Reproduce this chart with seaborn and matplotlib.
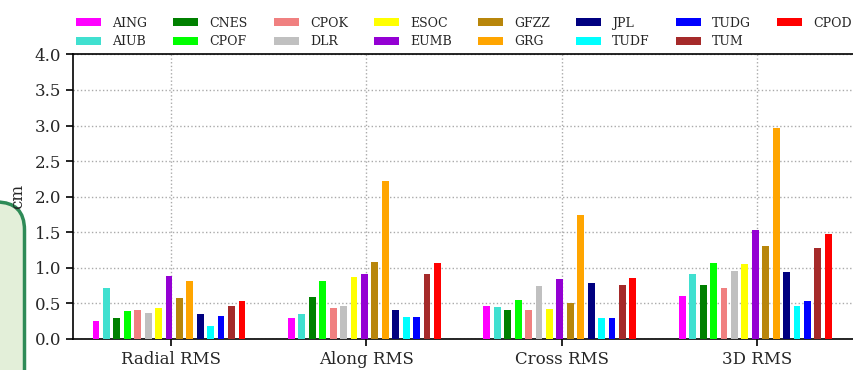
import matplotlib
matplotlib.use("Agg")
import matplotlib.pyplot as plt
from matplotlib.patches import FancyBboxPatch, Patch
import seaborn as sns
import pandas as pd

categories = ["Radial RMS", "Along RMS", "Cross RMS", "3D RMS"]
centers = ["AING", "AIUB", "CNES", "CPOF", "CPOK", "DLR", "ESOC", "EUMB",
           "GFZZ", "GRG", "JPL", "TUDF", "TUDG", "TUM", "CPOD"]
colors = ["#ff00ff", "#40e0d0", "#008000", "#00ff00", "#f08080", "#c0c0c0",
          "#ffff00", "#9400d3", "#b8860b", "#ffa500", "#000080", "#00ffff",
          "#0000ff", "#a52a2a", "#ff0000"]

radial = [0.25, 0.71, 0.30, 0.40, 0.41, 0.37, 0.43, 0.88, 0.57, 0.81, 0.35, 0.18, 0.32, 0.47, 0.53]
along = [0.30, 0.35, 0.59, 0.82, 0.43, 0.47, 0.87, 0.92, 1.08, 2.22, 0.41, 0.31, 0.31, 0.92, 1.07]
cross = [0.46, 0.45, 0.41, 0.55, 0.41, 0.74, 0.42, 0.85, 0.50, 1.74, 0.78, 0.29, 0.30, 0.76, 0.86]
total3d = [0.60, 0.91, 0.76, 1.07, 0.72, 0.95, 1.05, 1.53, 1.31, 2.97, 0.94, 0.46, 0.53, 1.28, 1.47]

yticks = [0.0, 0.5, 1.0, 1.5, 2.0, 2.5, 3.0, 3.5, 4.0]

rows = []
for cat, vals in zip(categories, [radial, along, cross, total3d]):
    for c, v in zip(centers, vals):
        rows.append({"cat": cat, "center": c, "val": v})
df = pd.DataFrame(rows)

sns.set_style("white")
plt.rcParams["font.family"] = ["DejaVu Serif"]

fig = plt.figure(figsize=(8.54, 3.70), dpi=100)
ax = fig.add_axes([0.0855, 0.0838, 0.9155, 0.7692])

sns.barplot(data=df, x="cat", y="val", hue="center", hue_order=centers,
            order=categories, palette=colors, width=0.8, ax=ax,
            legend=False, saturation=1, zorder=3)

for p in ax.patches:
    p.set_width(0.035)
    p.set_edgecolor("none")

ax.set_xlim(-0.5, 3.5)
ax.set_ylim(0, 4.0)
ax.set_yticks(yticks)
ax.set_yticklabels([f"{t:.1f}" for t in yticks], fontsize=12)
ax.tick_params(axis="x", labelsize=12)
ax.tick_params(axis="both", which="major", direction="out", length=5,
               width=1.2, color="black", bottom=True, left=True)
ax.set_xlabel("")
ax.set_ylabel("cm", fontsize=12, labelpad=6)
ax.grid(True, linestyle=":", color="#aaaaaa", linewidth=1.0, zorder=0)
ax.set_axisbelow(True)
for s in ax.spines.values():
    s.set_color("black")
    s.set_linewidth(1.2)

handles = [Patch(facecolor=c, edgecolor="none") for c in colors]
leg = ax.legend(handles, centers, ncol=8, loc="lower center",
                bbox_to_anchor=(0.5, 1.0), frameon=False, fontsize=9,
                handlelength=2.0, handleheight=0.6, handletextpad=0.9,
                columnspacing=2.08, labelspacing=0.45, borderaxespad=0.1)

box = FancyBboxPatch((-0.4, -0.5), 0.645, 2.18,
                     boxstyle="round,pad=0,rounding_size=0.28",
                     transform=fig.dpi_scale_trans, facecolor="#e3efd9",
                     edgecolor="#2e8b57", linewidth=2.5, zorder=-1)
fig.patches.append(box)

fig.savefig("out.png", dpi=100)
